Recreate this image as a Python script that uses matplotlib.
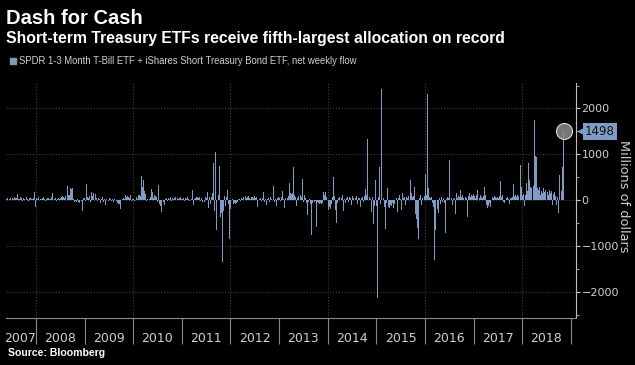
import matplotlib
matplotlib.use("Agg")
import matplotlib.pyplot as plt
import matplotlib.dates as mdates
import matplotlib.transforms as mtransforms
from matplotlib.ticker import MultipleLocator, FixedLocator, NullFormatter
import pandas as pd

# weekly net flow, millions of dollars (Fridays, from 2007-05-25)
flow_2007 = [20, 40, -10, 30, 50, 20, 60, 40, 30, 70, 50, 40, 130, 30, 20, 60,
             40, -20, 50, 30, 40, 20, 60, 30, -30, 50, 40, 20, 30, 50, 180, -150]
flow_2008 = [40, 30, 60, -20, 50, 30, 20, 40, 60, 30, -30, 20, 50, 40, 30, 20, 60,
             160, -70, 30, 20, 40, -20, 30, 50, 20, 40,
             60, 80, 70, 50, 90, 80, 60,
             305, 120, 100, 270, 250, 260,
             30, -40, -30, -50, 20, -40, -60, -50, 40, -30, -240, 40]
flow_2009 = [40, -30, 360, 60, 40, 80, -40, 180, 90, 150, 160, 60, 130, 40,
             -30, 50, 20, -60, 30, 60, -40, 20, -110, 30, 90,
             20, -30, 40, 20, -20, 30, -40, 20, 10, -30, -60, -80, -90,
             -200, -150, -40, 20, 40, 30, 120, 60, 80, 70, 40, 110, -30, 20]
flow_2010 = [30, -20, 40, 20, 60, 30, 110, 120, 90, 530, 290, 440, 200, 130,
             -30, 20, 50, -20, 30, 60, 230, 180, 40, 120, 80, 60, -40, 330, -80,
             -120, -255, -60, 30, -40, -110,
             20, 40, -30, 50, 30, 60, -20, 40, 20, 50, 60, 30, -30, 40, 20, 50, 70, 30]
flow_2011 = [30, 50, -20, 40, 20, 60, 30, -30, 40, 50, 20, 210, -100, 30, 40,
             60, 70, 50, 60, -30, 40, -50, 30, 150, -40, 60, 40, 170, -180, 60,
             -90, 70, 150, 800, -250, 1040, -655, 260, 365, 120, 750, -365, -280,
             -1350, -250, 90, -120, 60, 220, -90, -860, -200]
flow_2012 = [-365, -60, 30, -80, -60, -90, -70, -40, 30, 20, -30, 40, 20,
             60, 70, 50, 80, 40, 60, 90, 50, 30, 70, 60, 40, 80, 50, 60,
             -145, 40, -60, 30, 50, -30, 40, 170, -40, 30, -110,
             30, 50, -40, 60, 30, 40, 80, 315, -40, 30, -130, 40, 60]
flow_2013 = [40, -30, 60, 200, 30, -170, 40, 60, -30, 50, 80, 380, 150, 130,
             160, 715, 120, 60, -130, 40, 90, -130, 460, 110, 60, 450, -40, 120,
             50, -60, -330, -40, 30, -90, -765, -60, 70, 40, -50, -30, -585, -40,
             -75, -80, -60, -90, -70, 170, 120, 170, 60, -40]
flow_2014 = [-525, -220, -150, -200, -90, 60, 500, 80, -220, -500, -60, 40, 60,
             -40, 420, 50, 110, -235,
             30, -60, 50, 70, -40, 60, 40, -100, 80, 50, -50, 60, 40, 90, -80, 50, 40,
             -150, 40, 60, -40, 90, 235, 120, 1340, 1370, 1020, 60, 30, -255, 60,
             -530, -120, 440]
flow_2015 = [-120, -2130, 60, 715, -90, 2430, 80, -365, 40, -150, -635, -60, 255,
             -150, -180, -100, -130, -60, -170, -80, -1460, -90, 50, -255, 40, 110,
             30, -220, 160, 40, 60, -100, 70, 50, 80, 1875, 1000, 440, 150, 60, 90,
             290, -300, -420, -620, -860, 40, 110, -100, 50, 30, 240]
flow_2016 = [90, 560, 120, 2320, 255, 60, 40, 70, -60, -150, -1315, -655, -440,
             -365, -200, -290, 40, -80, 60, -50, 40, -60, -730, 30, 70, 40, 875,
             110, -180, 40, -100, 30, 50, -315, 160, 40, 90, 60, 220, 70, 100, 50,
             130, 80, 60, 40, -365, 90, 150, 60, 120, 80, 140]
flow_2017 = [80, 50, 120, 220, 60, 90, 40, 110, 70, 50, 90, 280, 120, -100, -180,
             -120, -60, -150, -90, 40, 70, 50, 80, 60, 40, 70, 50, 90, 420, 60, 110,
             -40, -60, -30, 160, 40, 60, 30, -90, 50, 40, 70, 340, 90, 110, 70, 100,
             80, 110, 90, 770, 290]
flow_2018 = [90, 140, -130, 120, 365, 200, 800, 440, 280, 255, 180, -255, 300,
             1750, 960, 935, 255, 220, 280, 120, 200, 150, 255, 180, 220, 130, 200,
             170, 100, 210, 150, 190, -100, 130, 180, 80, -110, 60, -290, 550, 150,
             330, 200, 715, 1498]

year_labels = ["2007", "2008", "2009", "2010", "2011", "2012",
               "2013", "2014", "2015", "2016", "2017", "2018"]

flows = (flow_2007 + flow_2008 + flow_2009 + flow_2010 + flow_2011 + flow_2012 +
         flow_2013 + flow_2014 + flow_2015 + flow_2016 + flow_2017 + flow_2018)
dates = pd.date_range("2007-05-25", periods=len(flows), freq="W-FRI")

BG = "black"
BAR = "#7f9cc4"
TXT = "#cfcfcf"
GRID = "#4a4a4a"
HEAD = ["Liberation Sans", "DejaVu Sans"]
plt.rcParams["font.family"] = ["DejaVu Sans"]

fig = plt.figure(figsize=(6.35, 3.65), dpi=100, facecolor=BG)
ax = fig.add_axes([6 / 635, 1 - 318 / 365, 570 / 635, 235 / 365], facecolor=BG)

ax.bar(dates, flows, width=6.5, color=BAR, linewidth=0, zorder=3)

ax.set_xlim(pd.Timestamp("2007-05-22"), pd.Timestamp("2019-02-09"))
ax.set_ylim(-2576, 2555)

# grid
for v in [-2000, -1000, 0, 1000, 2000]:
    ax.axhline(v, color=GRID, lw=0.7, ls=(0, (1, 2)), zorder=1)
for yr in range(2008, 2019, 2):
    ax.axvline(pd.Timestamp(f"{yr}-01-01"), color=GRID, lw=0.7, ls=(0, (1, 2)), zorder=1)

# spines
for s in ["left", "top"]:
    ax.spines[s].set_visible(False)
ax.spines["right"].set_color("#bdbdbd")
ax.spines["bottom"].set_color("#8a8a8a")

# y axis on right
ax.yaxis.tick_right()
ax.yaxis.set_major_locator(MultipleLocator(1000))
ax.yaxis.set_minor_locator(MultipleLocator(500))
ax.tick_params(axis="y", which="major", colors=TXT, labelsize=8, length=3, pad=1)
ax.tick_params(axis="y", which="minor", colors="#bdbdbd", length=2)
# axis title placed by hand so it clears the tick labels
fig.text(623 / 635, 1 - 196 / 365, "Millions of dollars", color=TXT, fontsize=9.3,
         rotation=270, ha="center", va="center")

# x axis: year separators + centered year labels
sep = [mdates.date2num(pd.Timestamp(f"{y}-01-01")) for y in range(2008, 2020)]
ax.xaxis.set_major_locator(FixedLocator(sep))
ax.xaxis.set_major_formatter(NullFormatter())
centers = [mdates.date2num(pd.Timestamp("2007-09-08"))] + \
          [mdates.date2num(pd.Timestamp(f"{y}-07-02")) for y in range(2008, 2019)]
ax.xaxis.set_minor_locator(FixedLocator(centers))
ax.set_xticklabels(year_labels, minor=True)
ax.tick_params(axis="x", which="major", colors="#8a8a8a", length=19, width=0.8)
ax.tick_params(axis="x", which="minor", colors=TXT, length=0, labelsize=9, pad=10)

# highlight of latest value
last_d, last_v = dates[-1], flows[-1]
ax.plot([last_d], [last_v], "o", ms=11.5, mfc=(0.55, 0.55, 0.55, 0.85),
        mec="#d8d8d8", mew=0.8, zorder=5)
tri = mtransforms.offset_copy(ax.get_yaxis_transform(), fig=fig, x=5, y=0, units="dots")
ax.plot([1], [last_v], marker="<", ms=5, color=BAR, transform=tri, clip_on=False)
ax.text(1, last_v, f"{last_v}", transform=mtransforms.offset_copy(
    ax.get_yaxis_transform(), fig=fig, x=9, y=0, units="dots"),
    ha="left", va="center", fontsize=8.5, color="#101010",
    bbox=dict(boxstyle="square,pad=0.2", fc=BAR, ec="none"))

# titles
fig.text(6 / 635, 1 - 19 / 365, "Dash for Cash", color="white", fontsize=14.5,
         fontweight="bold", va="center", ha="left", family=HEAD)
fig.text(6 / 635, 1 - 39 / 365,
         "Short-term Treasury ETFs receive fifth-largest allocation on record",
         color="white", fontsize=11.3, fontweight="bold", va="center", ha="left",
         family=HEAD)
fig.patches.append(plt.Rectangle((10 / 635, 1 - 64 / 365), 6 / 635, 6 / 365,
                                 transform=fig.transFigure, color=BAR, figure=fig))
fig.text(19 / 635, 1 - 61 / 365,
         "SPDR 1-3 Month T-Bill ETF + iShares Short Treasury Bond ETF, net weekly flow",
         color=TXT, fontsize=6.85, va="center", ha="left", family=HEAD)
fig.text(8 / 635, 1 - 353 / 365, "Source: Bloomberg", color="white", fontsize=7.6,
         fontweight="bold", va="center", ha="left", family=HEAD)

fig.savefig("out.png", dpi=100, facecolor=BG)
